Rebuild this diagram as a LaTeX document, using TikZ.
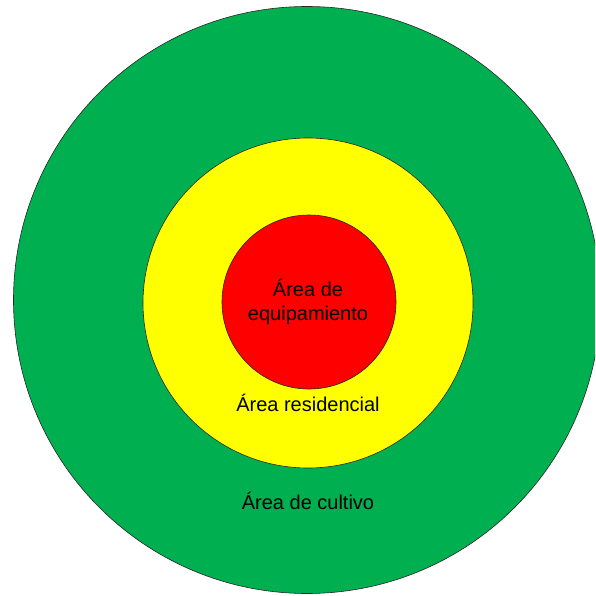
\documentclass[tikz,border=0pt]{standalone}
\usepackage{fontspec}
\setmainfont{Liberation Sans}
\definecolor{zonegreen}{HTML}{00B050}
\definecolor{zoneyellow}{HTML}{FFFF00}
\definecolor{zonered}{HTML}{FF0000}

\begin{document}
\begin{tikzpicture}[
  x=1pt, y=-1pt,
  zone/.style={circle, draw=black!85, line width=0.6pt, inner sep=0pt},
  lbl/.style={font=\fontsize{20}{24}\selectfont, text=black, align=center},
]

% frame
\useasboundingbox (0,0) rectangle (595,596);
\clip (0,0) rectangle (595,596);

% ---------- rings, outside in ----------
\node[zone, fill=zonegreen, minimum size=587] (cultivo) at (307,300) {};
\node[zone, fill=zoneyellow, minimum size=330] (residencial) at (308,303) {};
\node[zone, fill=zonered, minimum size=174] (equipamiento) at (309,302) {};

% ---------- labels ----------
\node[lbl] (lblequip) at (308,302) {Área de\\equipamiento};
\node[lbl] (lblres) at (308,403) {Área residencial};
\node[lbl] (lblcult) at (308,501) {Área de cultivo};

\end{tikzpicture}
\end{document}
